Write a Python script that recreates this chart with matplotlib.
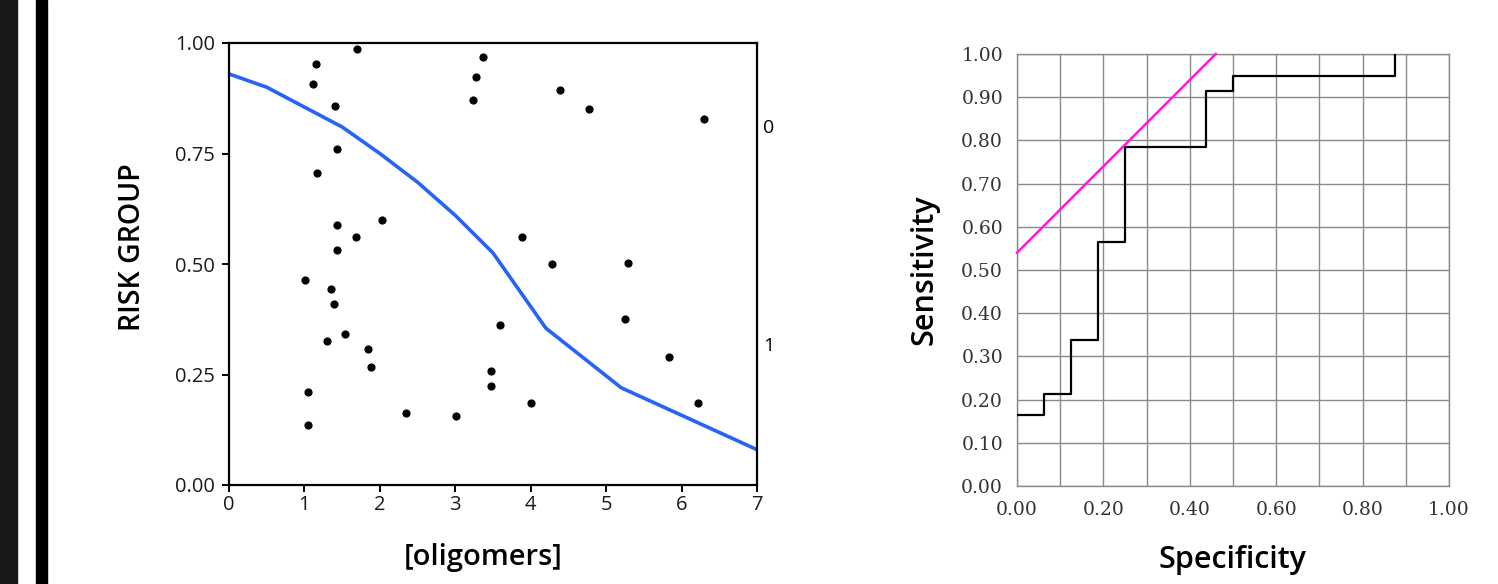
import matplotlib
matplotlib.use("Agg")
import matplotlib.pyplot as plt
from matplotlib.patches import Rectangle

# left panel: scatter of oligomer level vs risk group, with fitted curve
olig_x = [1.70, 1.15, 1.11, 1.41, 1.43, 1.17, 3.37, 3.27, 3.23, 4.39, 4.77, 6.30,
          2.03, 1.43, 1.68, 1.43, 1.01, 1.35, 1.39, 1.54, 1.30, 1.84, 1.88, 1.05,
          1.05, 2.35, 3.01, 3.88, 4.28, 5.29, 3.59, 5.25, 3.47, 3.47, 4.00, 5.83, 6.22]
risk_y = [0.986, 0.952, 0.907, 0.857, 0.761, 0.705, 0.968, 0.923, 0.870, 0.893, 0.850, 0.827,
          0.600, 0.589, 0.561, 0.532, 0.464, 0.443, 0.409, 0.341, 0.325, 0.307, 0.266, 0.211,
          0.136, 0.164, 0.157, 0.561, 0.500, 0.502, 0.361, 0.375, 0.259, 0.225, 0.186, 0.289, 0.186]
fit_x = [0, 0.5, 1, 1.5, 2, 2.5, 3, 3.5, 4.2, 5.2, 7]
fit_y = [0.93, 0.90, 0.855, 0.81, 0.75, 0.685, 0.61, 0.525, 0.355, 0.22, 0.08]
group_labels = ["0", "1"]
group_pos = [0.807, 0.314]

# right panel: ROC curve
spec = [0, 0.0625, 0.125, 0.1875, 0.25, 0.4375, 0.5, 0.875]
sens = [0.165, 0.213, 0.338, 0.565, 0.785, 0.915, 0.95, 1.0]
ref_x = [0, 0.46]
ref_y = [0.54, 1.0]

W, H = 1498, 584
fig = plt.figure(figsize=(W / 100, H / 100), dpi=100)
fig.patch.set_facecolor("white")

# dark bars on the left edge
fig.patches.append(Rectangle((0, 0), 17 / W, 1, transform=fig.transFigure, color="#18181a", zorder=0))
fig.patches.append(Rectangle((36 / W, 0), 11 / W, 1, transform=fig.transFigure, color="#000000", zorder=0))

sans = "Open Sans"
serif = "DejaVu Serif"

# ---- left chart ----
ax1 = fig.add_axes([229 / W, 1 - 485 / H, 528 / W, 442 / H])
ax1.plot(fit_x, fit_y, color="#2763f5", lw=2.6, zorder=2)
ax1.scatter(olig_x, risk_y, s=24, color="black", zorder=3)
ax1.set_xlim(0, 7)
ax1.set_ylim(0, 1)
ax1.set_xticks(range(8))
ax1.set_yticks([0, 0.25, 0.5, 0.75, 1.0])
ax1.set_yticklabels(["0.00", "0.25", "0.50", "0.75", "1.00"])
for s in ax1.spines.values():
    s.set_linewidth(1.6)
ax1.tick_params(direction="out", length=5, width=1.4, labelsize=14.5)
ax1.tick_params(axis="y", pad=5)
ax1.tick_params(axis="x", pad=2)
for lab in ax1.get_xticklabels() + ax1.get_yticklabels():
    lab.set_family(sans)
    lab.set_color("#1a1a1a")
ax1.set_xlabel("[oligomers]", fontsize=21, family=sans, fontweight="semibold")
ax1.set_ylabel("RISK GROUP", fontsize=20.5, family=sans, fontweight="semibold")
ax1.xaxis.set_label_coords(0.481, -0.163)
ax1.yaxis.set_label_coords(-0.182, 0.538)
ax1.xaxis.label.set_va("center")
ax1.yaxis.label.set_va("center")
for lab, yv in zip(group_labels, group_pos):
    ax1.text(1.012, yv, lab, transform=ax1.get_yaxis_transform(), fontsize=14,
             family=sans, ha="left", va="center")

# ---- right chart ----
ax2 = fig.add_axes([1017 / W, 1 - 486 / H, 432 / W, 432 / H])
ax2.step(spec, sens, where="post", color="black", lw=1.6, zorder=3)
ax2.plot(ref_x, ref_y, color="#ff1ad9", lw=1.8, zorder=4, clip_on=False)
ax2.set_xlim(0, 1)
ax2.set_ylim(0, 1)
ax2.set_xticks([i / 10 for i in range(11)])
ax2.set_yticks([i / 10 for i in range(11)])
ax2.set_xticklabels([f"{i / 10:.2f}" if i % 2 == 0 else "" for i in range(11)])
ax2.set_yticklabels([f"{i / 10:.2f}" for i in range(11)])
ax2.grid(True, color="#8a8a8a", lw=1.0)
ax2.set_axisbelow(True)
for s in ax2.spines.values():
    s.set_color("#8a8a8a")
    s.set_linewidth(1.0)
ax2.tick_params(length=0, labelsize=13.5)
ax2.tick_params(axis="y", pad=10)
ax2.tick_params(axis="x", pad=11)
for lab in ax2.get_xticklabels() + ax2.get_yticklabels():
    lab.set_family(serif)
    lab.set_color("#333333")
ax2.set_xlabel("Specificity", fontsize=22, family=sans, fontweight="semibold")
ax2.set_ylabel("Sensitivity", fontsize=22, family=sans, fontweight="semibold")
ax2.xaxis.set_label_coords(0.5, -0.171)
ax2.yaxis.set_label_coords(-0.213, 0.5)
ax2.xaxis.label.set_va("center")
ax2.yaxis.label.set_va("center")

fig.savefig("out.png", dpi=100)
